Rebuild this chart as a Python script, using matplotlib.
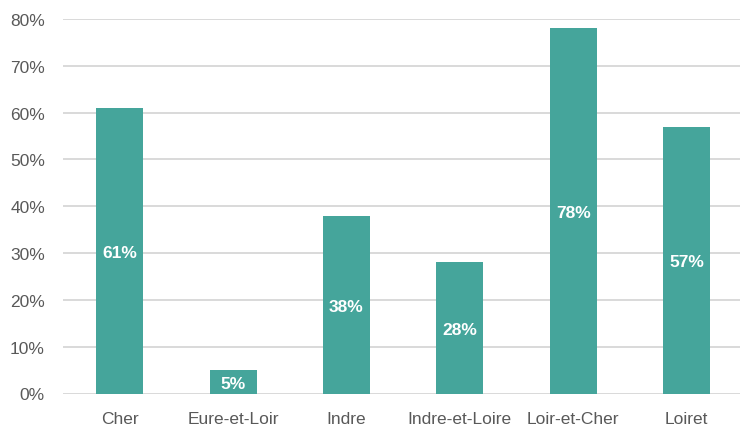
import numpy as np
import matplotlib.pyplot as plt

# data
departements = ['Cher', 'Eure-et-Loir', 'Indre', 'Indre-et-Loire', 'Loir-et-Cher', 'Loiret']
parts = [61, 5, 38, 28, 78, 57]
yticks = [0, 10, 20, 30, 40, 50, 60, 70, 80]

plt.rcParams['font.family'] = ['Liberation Sans', 'DejaVu Sans']

fig = plt.figure(figsize=(7.40, 4.27), dpi=100)
ax = fig.add_axes((63 / 740, 32.5 / 427, 677 / 740, 374.5 / 427))

X = np.arange(len(departements))
ax.bar(X, parts, width=0.415, color='#45a59b', zorder=3)

for x, v in zip(X, parts):
    ax.text(x, v / 2, str(v) + '%', ha='center', va='center_baseline', color='white',
            fontsize=12.5, fontweight='bold', zorder=4)

ax.set_xlim(-0.5, 5.47)
ax.set_ylim(0, 80)
ax.set_yticks(yticks)
ax.set_yticklabels([str(t) + '%' for t in yticks])
ax.set_xticks(X)
ax.set_xticklabels(departements)
ax.tick_params(axis='both', length=0, colors='#595959', labelsize=12.5)
ax.tick_params(axis='y', pad=13)
ax.tick_params(axis='x', pad=12.5)

ax.grid(axis='y', color='#d9d9d9', linewidth=1.4, zorder=0)
for s in ax.spines.values():
    s.set_visible(False)

fig.savefig('out.png', dpi=100)
